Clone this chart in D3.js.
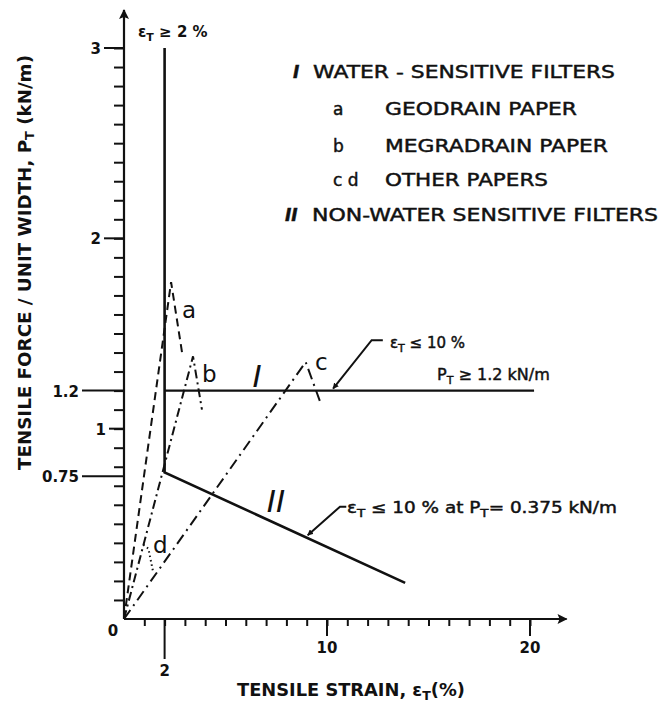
<!DOCTYPE html>
<html>
<head>
<meta charset="utf-8">
<script src="https://cdn.jsdelivr.net/npm/d3@7"></script>
<style>
  body { margin: 0; background: #fff; }
  svg text { font-family: "DejaVu Sans", sans-serif; fill: #111; }
  svg text.heavy { stroke: #111; stroke-width: 0.45; }
</style>
</head>
<body>
<div id="chart"></div>
<script>
// strain in %, force in kN/m
const curveA = [[0, 0], [1.9, 1.45], [2.32, 1.77], [2.86, 1.4]];
const curveB = [[0, 0], [3.4, 1.38], [3.84, 1.1]];
const curveC = [[0, 0], [8.95, 1.35], [9.7, 1.13]];
const curveD = [[0.95, 0.39], [1.2, 0.37], [1.43, 0.25]];
const limitI = [[2, 1.2], [20.2, 1.2]];
const limitII = [[2, 3], [2, 0.77], [13.85, 0.19]];

const yMajorValues = [0.75, 1, 1.2, 2, 3];
const yMajorLabels = ["0.75", "1", "1.2", "2", "3"];
const xMajorValues = [2, 10, 20];
const xMajorLabels = ["2", "10", "20"];

const legendKeys = ["I", "a", "b", "c d", "II"];
const legendTexts = ["WATER - SENSITIVE FILTERS", "GEODRAIN PAPER", "MEGRADRAIN PAPER", "OTHER PAPERS", "NON-WATER SENSITIVE FILTERS"];

const W = 671, H = 704;
const svg = d3.select("#chart").append("svg").attr("width", W).attr("height", H);
svg.append("rect").attr("width", W).attr("height", H).attr("fill", "#fff");

const x = d3.scaleLinear().domain([0, 20]).range([124, 530]);
const y = d3.scaleLinear().domain([0, 3]).range([619, 48]);

svg.append("defs").append("marker")
    .attr("id", "arr").attr("viewBox", "0 0 10 10").attr("refX", 9).attr("refY", 5)
    .attr("markerWidth", 6).attr("markerHeight", 6).attr("orient", "auto")
    .attr("markerUnits", "userSpaceOnUse")
  .append("path").attr("d", "M0,0L10,5L0,10z").attr("fill", "#111");
svg.select("defs").append("marker")
    .attr("id", "bigarr").attr("viewBox", "0 0 10 10").attr("refX", 9).attr("refY", 5)
    .attr("markerWidth", 14).attr("markerHeight", 10).attr("orient", "auto")
    .attr("markerUnits", "userSpaceOnUse")
  .append("path").attr("d", "M0,0L10,5L0,10L2,5z").attr("fill", "#111");

// minor ticks
const yAxis = svg.append("g").attr("transform", `translate(${x(0)},0)`)
    .call(d3.axisLeft(y).tickValues(d3.range(1, 31).map(d => d / 10)).tickSize(10).tickFormat(""));
yAxis.select(".domain").remove();
yAxis.selectAll("line").attr("stroke", "#111").attr("stroke-width", 2);

const xAxis = svg.append("g").attr("transform", `translate(0,${y(0)})`)
    .call(d3.axisBottom(x).tickValues(d3.range(1, 21)).tickSize(7).tickFormat(""));
xAxis.select(".domain").remove();
xAxis.selectAll("line").attr("stroke", "#111").attr("stroke-width", 2);

// axis lines with arrows
svg.append("line").attr("x1", x(0)).attr("y1", y(0)).attr("x2", x(0)).attr("y2", y(3.2))
    .attr("stroke", "#111").attr("stroke-width", 2.2).attr("marker-end", "url(#bigarr)");
svg.append("line").attr("x1", x(0)).attr("y1", y(0)).attr("x2", x(21.8)).attr("y2", y(0))
    .attr("stroke", "#111").attr("stroke-width", 2.2).attr("marker-end", "url(#bigarr)");

// major ticks
const yTickLen = v => (v === 0.75 || v === 1.2) ? 42 : (v === 1 ? 15 : 20);
yMajorValues.forEach((v, i) => {
  svg.append("line").attr("x1", x(0) - yTickLen(v)).attr("x2", x(0))
      .attr("y1", y(v)).attr("y2", y(v)).attr("stroke", "#111").attr("stroke-width", 2);
  svg.append("text").attr("x", x(0) - yTickLen(v) - 3).attr("y", y(v) + 6)
      .attr("text-anchor", "end").attr("font-size", 15).attr("font-weight", "bold")
      .text(yMajorLabels[i]);
});
const xTickLen = v => v === 2 ? 40 : 17;
xMajorValues.forEach((v, i) => {
  svg.append("line").attr("x1", x(v)).attr("x2", x(v))
      .attr("y1", y(0)).attr("y2", y(0) + xTickLen(v)).attr("stroke", "#111").attr("stroke-width", 2);
  svg.append("text").attr("x", x(v)).attr("y", y(0) + xTickLen(v) + 17)
      .attr("text-anchor", "middle").attr("font-size", 15).attr("font-weight", "bold")
      .text(xMajorLabels[i]);
});
svg.append("text").attr("x", x(0) - 11).attr("y", y(0) + 17)
    .attr("text-anchor", "middle").attr("font-size", 15).attr("font-weight", "bold").text("0");

// axis titles
svg.append("text").attr("x", 237).attr("y", 696).attr("font-size", 17).attr("font-weight", "bold")
    .attr("textLength", 228).attr("lengthAdjust", "spacingAndGlyphs")
    .call(t => {
      t.append("tspan").text("TENSILE STRAIN, \u03b5");
      t.append("tspan").attr("font-size", 12).attr("dy", 4).text("T");
      t.append("tspan").attr("dy", -4).text("(%)");
    });
svg.append("text").attr("transform", "translate(31,470) rotate(-90)")
    .attr("font-size", 17).attr("font-weight", "bold")
    .attr("textLength", 415).attr("lengthAdjust", "spacingAndGlyphs")
    .call(t => {
      t.append("tspan").text("TENSILE  FORCE / UNIT WIDTH, P");
      t.append("tspan").attr("font-size", 12).attr("dy", 3).text("T");
      t.append("tspan").attr("dy", -3).text(" (kN/m)");
    });

// curves
const line = d3.line().x(d => x(d[0])).y(d => y(d[1]));
svg.append("path").attr("d", line(curveA)).attr("fill", "none").attr("stroke", "#111")
    .attr("stroke-width", 2).attr("stroke-dasharray", "8,5");
svg.append("path").attr("d", line(curveB)).attr("fill", "none").attr("stroke", "#111")
    .attr("stroke-width", 2).attr("stroke-dasharray", "9,4,2,4");
svg.append("path").attr("d", line(curveC)).attr("fill", "none").attr("stroke", "#111")
    .attr("stroke-width", 2).attr("stroke-dasharray", "11,5,2,5");
svg.append("path").attr("d", line(curveD)).attr("fill", "none").attr("stroke", "#111")
    .attr("stroke-width", 2).attr("stroke-dasharray", "1.5,3");
svg.append("path").attr("d", line(limitI)).attr("fill", "none").attr("stroke", "#111").attr("stroke-width", 2.4);
svg.append("path").attr("d", line(limitII)).attr("fill", "none").attr("stroke", "#111").attr("stroke-width", 2.6);

// curve letters
[["a", 182, 318], ["b", 202, 382], ["c", 315, 370], ["d", 153, 553]].forEach(l => {
  svg.append("text").attr("x", l[1]).attr("y", l[2]).attr("font-size", 23).text(l[0]);
});
svg.append("text").attr("x", 257).attr("y", 387).attr("text-anchor", "middle")
    .attr("font-family", "Liberation Serif").attr("font-style", "italic").attr("font-size", 31).text("I");
svg.append("text").attr("x", 276).attr("y", 512).attr("text-anchor", "middle")
    .attr("font-family", "Liberation Serif").attr("font-style", "italic").attr("font-size", 31).text("II");

// annotations
svg.append("text").attr("x", 138).attr("y", 37).attr("font-size", 15).attr("font-weight", "bold")
    .call(t => {
      t.append("tspan").text("\u03b5");
      t.append("tspan").attr("font-size", 11).attr("dy", 4).text("T");
      t.append("tspan").attr("dy", -4).text(" \u2265 2 %");
    });

svg.append("polyline")
    .attr("points", [[x(12.75), y(1.465)], [x(12.2), y(1.465)], [x(10.3), y(1.2) - 2]].map(p => p.join(",")).join(" "))
    .attr("fill", "none").attr("stroke", "#111").attr("stroke-width", 2).attr("marker-end", "url(#arr)");
svg.append("text").attr("class", "heavy").attr("x", 390).attr("y", 348).attr("font-size", 15)
    .call(t => {
      t.append("tspan").text("\u03b5");
      t.append("tspan").attr("font-size", 11).attr("dy", 4).text("T");
      t.append("tspan").attr("dy", -4).text(" \u2264 10 %");
    });
svg.append("text").attr("class", "heavy").attr("x", 437).attr("y", 380).attr("font-size", 16)
    .call(t => {
      t.append("tspan").text("P");
      t.append("tspan").attr("font-size", 11).attr("dy", 4).text("T");
      t.append("tspan").attr("dy", -4).text(" \u2265 1.2 kN/m");
    });

svg.append("polyline")
    .attr("points", [[x(10.95), y(0.59)], [x(10.64), y(0.59)], [x(9.05), y(0.43) - 2]].map(p => p.join(",")).join(" "))
    .attr("fill", "none").attr("stroke", "#111").attr("stroke-width", 2).attr("marker-end", "url(#arr)");
svg.append("text").attr("class", "heavy").attr("x", 347).attr("y", 513).attr("font-size", 15)
    .attr("textLength", 270).attr("lengthAdjust", "spacingAndGlyphs")
    .call(t => {
      t.append("tspan").text("\u03b5");
      t.append("tspan").attr("font-size", 11).attr("dy", 4).text("T");
      t.append("tspan").attr("dy", -4).text(" \u2264 10 % at P");
      t.append("tspan").attr("font-size", 11).attr("dy", 4).text("T");
      t.append("tspan").attr("dy", -4).text("= 0.375 kN/m");
    });

// legend
const legendY = [78, 115, 152, 186, 221];
const keyX = [293, 333, 333, 333, 285];
const textX = [313, 385, 385, 385, 312];
const textLen = [302, 192, 223, 163, 346];
legendKeys.forEach((k, i) => {
  const roman = k === "I" || k === "II";
  svg.append("text").attr("class", "heavy").attr("x", keyX[i]).attr("y", legendY[i]).attr("font-size", 17)
      .attr("font-style", roman ? "italic" : "normal").attr("font-weight", roman ? "bold" : "normal")
      .text(k);
  svg.append("text").attr("class", "heavy").attr("x", textX[i]).attr("y", legendY[i]).attr("font-size", 17)
      .attr("textLength", textLen[i]).attr("lengthAdjust", "spacingAndGlyphs")
      .text(legendTexts[i]);
});
</script>
</body>
</html>
